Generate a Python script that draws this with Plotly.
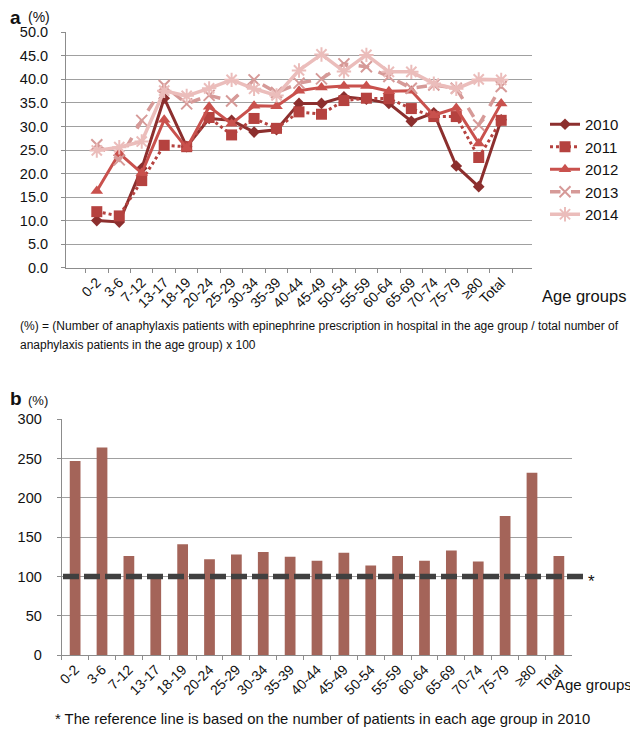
import plotly.graph_objects as go

AGE_GROUPS = ["0-2", "3-6", "7-12", "13-17", "18-19", "20-24", "25-29", "30-34", "35-39",
              "40-44", "45-49", "50-54", "55-59", "60-64", "65-69", "70-74", "75-79", "≥80", "Total"]

Y2010 = [10.0, 9.7, 21.1, 36.0, 25.7, 31.7, 31.3, 28.8, 29.3, 34.9, 34.9, 36.3, 35.8, 34.9, 31.1, 32.9, 21.6, 17.2, 31.4]
Y2011 = [11.9, 11.0, 18.5, 26.0, 25.7, 31.9, 28.2, 31.7, 29.6, 33.1, 32.6, 35.5, 36.0, 35.9, 33.8, 32.1, 32.1, 23.4, 31.3]
Y2012 = [16.3, 24.3, 20.1, 31.4, 25.4, 34.2, 30.6, 34.4, 34.3, 37.6, 38.3, 38.6, 38.6, 37.5, 37.6, 32.4, 33.9, 26.4, 34.9]
Y2013 = [26.1, 22.9, 31.3, 38.7, 34.8, 36.6, 35.4, 39.9, 37.2, 39.2, 40.1, 43.3, 42.7, 40.6, 38.1, 38.8, 38.1, 30.3, 38.5]
Y2014 = [24.9, 25.6, 26.8, 37.6, 36.5, 38.1, 39.9, 38.0, 36.6, 41.9, 45.3, 41.7, 45.2, 41.6, 41.6, 39.1, 38.0, 40.0, 39.9]

RATIO = [247, 264, 126, 100, 141, 122, 128, 131, 125, 120, 130, 114, 126, 120, 133, 119, 177, 232, 126]
REFERENCE_LINE = 100

Y_TICKS_A = [0, 5, 10, 15, 20, 25, 30, 35, 40, 45, 50]
Y_TICKS_B = [0, 50, 100, 150, 200, 250, 300]

FONT = "Liberation Sans, Arial, sans-serif"
OFF = 8  # default page body margin
W, H = 638 - OFF, 731 - OFF

def px_x(v):
    return max(v - OFF, 0) / W

def px_y(v):
    return 1 - (v - OFF) / H

fig = go.Figure()

series = [
    ("2010", Y2010, "#8C2F2E", "solid", "diamond", 9, 3.0),
    ("2011", Y2011, "#B5423F", "dot", "square", 11, 3.0),
    ("2012", Y2012, "#C9514D", "solid", "triangle-up", 11, 3.0),
    ("2013", Y2013, "#D69A98", "dash", "x-thin-open", 11, 3.5),
    ("2014", Y2014, "#EBBDBB", "solid", "asterisk-open", 12, 3.5),
]
for name, ys, color, dash, sym, size, lw in series:
    open_sym = sym.endswith("open")
    fig.add_trace(go.Scatter(
        x=AGE_GROUPS, y=ys, name=name, mode="lines+markers",
        line=dict(color=color, width=lw, dash=dash),
        marker=dict(symbol=sym, size=size, color=color,
                    line=dict(color=color, width=2 if open_sym else 0)),
        xaxis="x", yaxis="y", cliponaxis=False,
    ))

fig.add_trace(go.Bar(
    x=AGE_GROUPS, y=RATIO, marker=dict(color="#A46459", line=dict(width=0)),
    xaxis="x2", yaxis="y2", showlegend=False,
))

fig.add_shape(type="line", xref="paper", yref="y2",
              x0=px_x(63), x1=px_x(586), y0=REFERENCE_LINE, y1=REFERENCE_LINE,
              line=dict(color="#404040", width=5.5, dash="16px,5px"))

def axis_common(size):
    return dict(
        automargin=False,
        showline=True, linecolor="#8C8C8C", linewidth=1,
        ticks="outside", ticklen=4, tickcolor="#8C8C8C",
        tickfont=dict(family=FONT, size=size, color="#111"),
    )

fig.update_layout(
    template="none",
    width=W, height=H, autosize=False,
    margin=dict(l=0, r=0, t=0, b=0, pad=0),
    paper_bgcolor="white", plot_bgcolor="white",
    font=dict(family=FONT, color="#111"),
    bargap=0.6,
    xaxis=dict(domain=[px_x(66), px_x(532)], anchor="y", type="category",
               tickson="boundaries", tickangle=-45, showgrid=False,
               **axis_common(14)),
    yaxis=dict(domain=[px_y(267.7), px_y(32.3)], anchor="x", range=[0, 50],
               tickvals=Y_TICKS_A, tickformat=".1f", ticklabelstandoff=10,
               showgrid=True, gridcolor="#A0A0A0", gridwidth=1.3, zeroline=False,
               **axis_common(14.5)),
    xaxis2=dict(domain=[px_x(61.7), px_x(572.3)], anchor="y2", type="category",
                tickson="boundaries", tickangle=-45, showgrid=False,
                **axis_common(14)),
    yaxis2=dict(domain=[px_y(655), px_y(419.3)], anchor="x2", range=[0, 300],
                tickvals=Y_TICKS_B, ticklabelstandoff=12,
                showgrid=True, gridcolor="#A0A0A0", gridwidth=1.3, zeroline=False,
                **axis_common(14.5)),
    legend=dict(x=px_x(545), y=px_y(108), xanchor="left", yanchor="top",
                font=dict(family=FONT, size=15, color="#111"),
                bgcolor="rgba(0,0,0,0)", itemwidth=30, tracegroupgap=0),
)

ann = [
    dict(text="<b>a</b>", x=px_x(8), y=px_y(18), size=19, xanchor="left"),
    dict(text="(%)", x=px_x(26), y=px_y(17), size=14, xanchor="left"),
    dict(text="Age groups", x=px_x(628), y=px_y(296), size=16.5, xanchor="right"),
    dict(text="(%) = (Number of anaphylaxis patients with epinephrine prescription in hospital in the age group / total number of",
         x=px_x(18), y=px_y(326), size=12, xanchor="left"),
    dict(text="anaphylaxis patients in the age group) x 100",
         x=px_x(18), y=px_y(345), size=12, xanchor="left"),
    dict(text="<b>b</b>", x=px_x(8), y=px_y(398), size=19, xanchor="left"),
    dict(text="(%)", x=px_x(26), y=px_y(401), size=13, xanchor="left"),
    dict(text="*", x=px_x(586), y=px_y(581), size=17, xanchor="left"),
    dict(text="Age groups", x=px_x(634), y=px_y(684), size=15, xanchor="right"),
    dict(text="* The reference line is based on the number of patients in each age group in 2010",
         x=px_x(53), y=px_y(719), size=14.8, xanchor="left"),
]
for a in ann:
    fig.add_annotation(text=a["text"], x=a["x"], y=a["y"], xref="paper", yref="paper",
                       xanchor=a["xanchor"], yanchor="middle", showarrow=False,
                       font=dict(family=FONT, size=a["size"], color="#111"))

fig.write_html("out.html")
